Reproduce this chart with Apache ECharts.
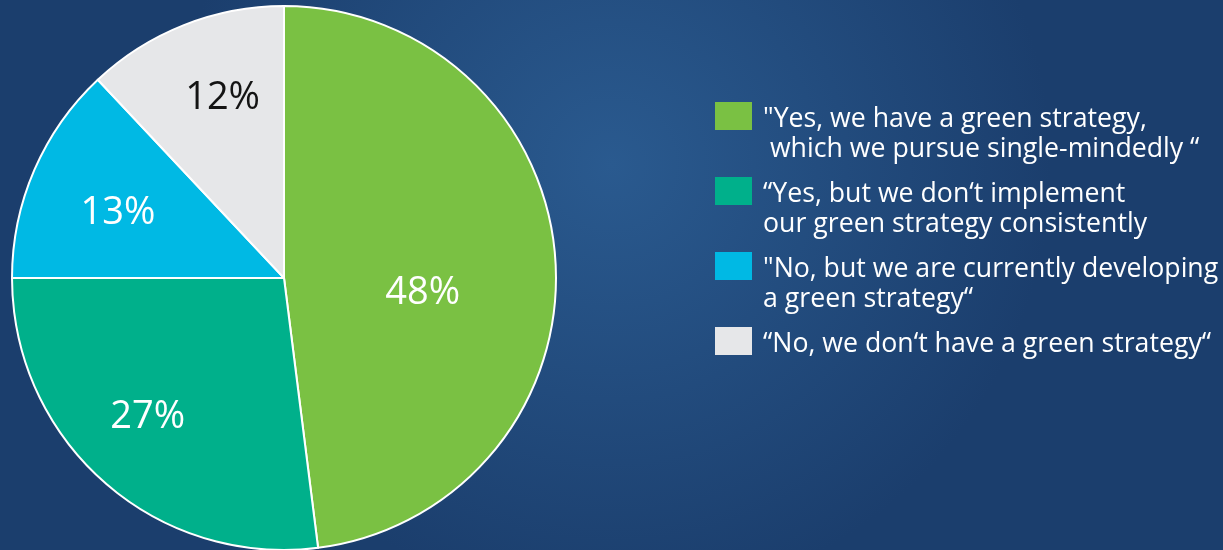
<!DOCTYPE html>
<html><head><meta charset="utf-8">
<style>html,body{margin:0;padding:0;}#c{width:1223px;height:550px;}</style>
<script src="https://cdn.jsdelivr.net/npm/echarts@6/dist/echarts.min.js"></script>
</head><body><div id="c"></div>
<script>
const categories = [
  '"Yes, we have a green strategy,\n which we pursue single-mindedly \u201C',
  '\u201CYes, but we don\u2018t implement\nour green strategy consistently',
  '"No, but we are currently developing\na green strategy\u201C',
  '\u201CNo, we don\u2018t have a green strategy\u201C'
];
const values = [48, 27, 13, 12];
const colors = ['#7ac143', '#00b08b', '#00b9e4', '#e6e7e9'];
const labelColors = ['#ffffff', '#ffffff', '#ffffff', '#141414'];
const labelOffsets = [[0, 24], [-8, -6], [12, 12], [10, 1]];

const FONT = '"Open Sans", sans-serif';
const chart = echarts.init(document.getElementById('c'));

const mainData = categories.map((n, i) => ({
  name: n, value: values[i],
  itemStyle: { color: colors[i] },
  label: { show: i === 0, color: labelColors[i], offset: labelOffsets[i] }
}));
const labelData = categories.map((n, i) => ({
  name: n, value: values[i],
  label: { show: i !== 0, color: labelColors[i], offset: labelOffsets[i] }
}));

const txt = { color: '#ffffff', fontSize: 26.7, fontFamily: FONT };

chart.setOption({
  backgroundColor: {
    type: 'radial', x: 0.5, y: 0.3, r: 0.8,
    colorStops: [
      { offset: 0, color: '#2a5a8f' },
      { offset: 1, color: '#1b3e6d' }
    ]
  },
  legend: {
    orient: 'vertical',
    left: 715, top: 68,
    padding: 0,
    itemWidth: 37, itemHeight: 28,
    itemGap: -21,
    icon: 'rect',
    selectedMode: false,
    itemStyle: { borderWidth: 0 },
    formatter: function (name) {
      const lines = name.split('\n').map(l => '{b|' + l + '}');
      if (lines.length === 1) lines.push('{b| }');
      return '{a| }\n' + lines.join('\n');
    },
    data: categories,
    textStyle: Object.assign({}, txt, {
      lineHeight: 30,
      padding: [0, 0, 0, 6],
      rich: {
        a: Object.assign({}, txt, { lineHeight: 36 }),
        b: Object.assign({}, txt, { lineHeight: 30 })
      }
    })
  },
  series: [
    {
      type: 'pie', center: [284, 278], radius: [0, 272],
      startAngle: 90, clockwise: true, silent: true,
      itemStyle: { borderColor: '#ffffff', borderWidth: 2 },
      label: { position: 'inside', formatter: '{c}%', fontSize: 38, fontFamily: FONT },
      labelLine: { show: false },
      data: mainData
    },
    {
      type: 'pie', center: [284, 278], radius: [110, 272],
      startAngle: 90, clockwise: true, silent: true,
      itemStyle: { color: 'rgba(0,0,0,0)' },
      label: { position: 'inside', formatter: '{c}%', fontSize: 38, fontFamily: FONT },
      labelLine: { show: false },
      data: labelData
    }
  ]
});
</script></body></html>
